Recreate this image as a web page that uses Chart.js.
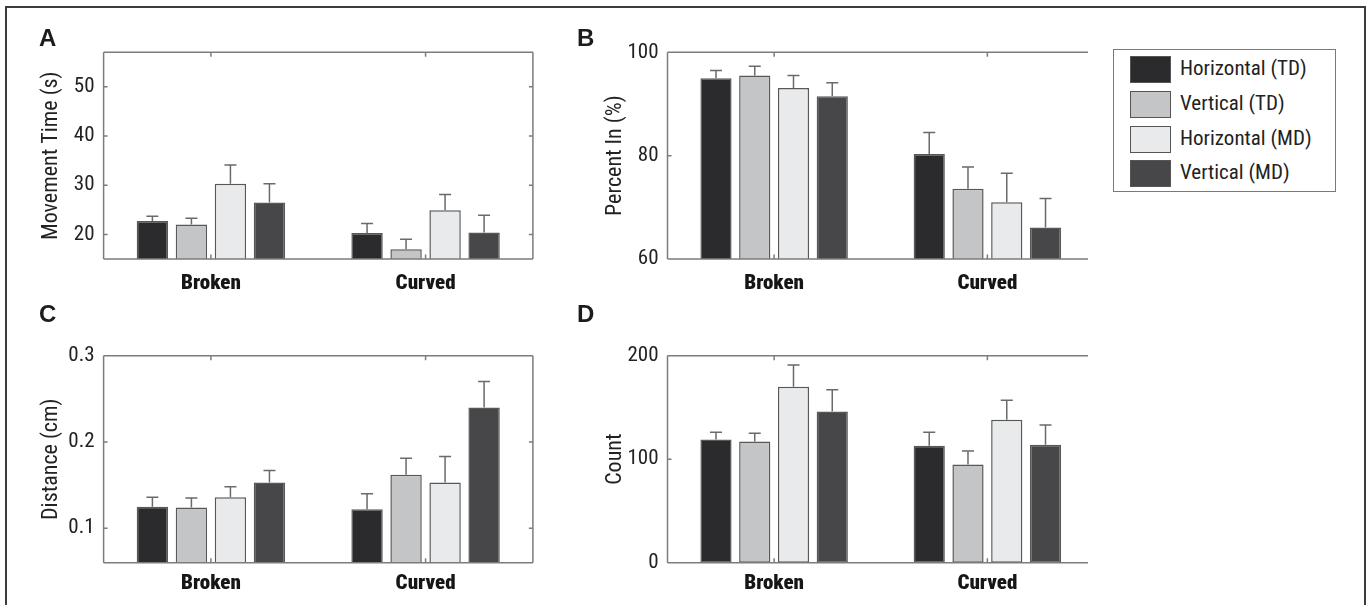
<!DOCTYPE html>
<html>
<head>
<meta charset="utf-8">
<script src="https://cdn.jsdelivr.net/npm/chart.js@4.4.1/dist/chart.umd.min.js"></script>
<style>
  body { margin: 0; background: #fff; }
  #fig { position: relative; width: 1372px; height: 605px; overflow: hidden; background: #fff; }
  #frame { position: absolute; left: 5px; top: 6px; width: 1361px; height: 640px; border: 2px solid #3c3c3c; box-sizing: border-box; }
  canvas { position: absolute; }
  .letter { position: absolute; font: bold 24px "Liberation Sans", Arial, sans-serif; color: #1c1c1c; line-height: 24px; }
  #legend { position: absolute; left: 1113px; top: 49px; width: 223px; height: 143px; border: 1.5px solid #7a7a7a; box-sizing: border-box; }
  .sw { position: absolute; left: 16px; width: 41px; height: 27px; border: 1.2px solid #555; box-sizing: border-box; }
  .txt { position: absolute; left: 66px; height: 27px; line-height: 27px; font: 21px "Roboto Condensed", "Liberation Sans", sans-serif; color: #222; white-space: nowrap; }
</style>
</head>
<body>
<div id="fig">
  <div id="frame"></div>
  <canvas id="cA" width="560" height="300" style="left:0;top:0"></canvas>
  <canvas id="cB" width="560" height="300" style="left:540px;top:0"></canvas>
  <canvas id="cC" width="560" height="305" style="left:0;top:300px"></canvas>
  <canvas id="cD" width="560" height="305" style="left:540px;top:300px"></canvas>
  <div class="letter" style="left:39px;top:26px">A</div>
  <div class="letter" style="left:577px;top:26px">B</div>
  <div class="letter" style="left:39px;top:302px">C</div>
  <div class="letter" style="left:577px;top:302px">D</div>
  <div id="legend"></div>
</div>
<script>
const categories = ['Broken', 'Curved'];
const seriesNames = ['Horizontal (TD)', 'Vertical (TD)', 'Horizontal (MD)', 'Vertical (MD)'];
const fills = ['#2b2a2c', '#c4c5c7', '#e9eaec', '#474749'];

// rows follow seriesNames, columns follow categories
const timeMean = [[22.7, 20.3], [22.0, 17.0], [30.3, 24.9], [26.5, 20.4]];
const timeErr = [[1.0, 1.9], [1.3, 2.0], [3.8, 3.2], [3.8, 3.5]];
const timeTicks = [20, 30, 40, 50];

const percentMean = [[95.0, 80.3], [95.5, 73.6], [93.1, 71.0], [91.5, 66.1]];
const percentErr = [[1.5, 4.2], [1.8, 4.2], [2.4, 5.6], [2.6, 5.6]];
const percentTicks = [60, 80, 100];

const distMean = [[0.125, 0.122], [0.124, 0.162], [0.136, 0.153], [0.153, 0.240]];
const distErr = [[0.011, 0.018], [0.011, 0.019], [0.012, 0.030], [0.014, 0.030]];
const distTicks = [0.1, 0.2, 0.3];

const countMean = [[119, 113], [117, 95], [170, 138], [146, 114]];
const countErr = [[7, 13], [8, 13], [21, 19], [21, 19]];
const countTicks = [0, 100, 200];

const family = '"Roboto Condensed", "Liberation Sans", sans-serif';

// legend
const legend = document.getElementById('legend');
const rowTops = [6, 40.5, 75.5, 109.5];
seriesNames.forEach((name, i) => {
  const sw = document.createElement('div');
  sw.className = 'sw';
  sw.style.top = rowTops[i] + 'px';
  sw.style.background = fills[i];
  legend.appendChild(sw);
  const t = document.createElement('div');
  t.className = 'txt';
  t.style.top = rowTops[i] + 'px';
  t.textContent = name;
  legend.appendChild(t);
});

const errorBars = {
  id: 'errorBars',
  afterDatasetsDraw(chart) {
    const { ctx } = chart;
    const y = chart.scales.y;
    ctx.save();
    ctx.strokeStyle = '#6a6a6a';
    ctx.lineWidth = 1.5;
    chart.data.datasets.forEach((ds, di) => {
      chart.getDatasetMeta(di).data.forEach((bar, i) => {
        const top = y.getPixelForValue(ds.data[i] + ds.err[i]);
        ctx.beginPath();
        ctx.moveTo(bar.x, bar.y);
        ctx.lineTo(bar.x, top);
        ctx.moveTo(bar.x - 6, top);
        ctx.lineTo(bar.x + 6, top);
        ctx.stroke();
      });
    });
    ctx.restore();
  }
};

// MATLAB-like axes box with inward ticks
const axesBox = {
  id: 'axesBox',
  afterDraw(chart, args, o) {
    const { ctx, chartArea: { left, right, top, bottom } } = chart;
    const { x, y } = chart.scales;
    const end = o.lineEnd || right;
    ctx.save();
    ctx.strokeStyle = '#7c7c7c';
    ctx.lineWidth = 1.5;
    ctx.beginPath();
    ctx.moveTo(left, top); ctx.lineTo(end, top);
    ctx.moveTo(left, bottom); ctx.lineTo(end, bottom);
    ctx.moveTo(left, top); ctx.lineTo(left, bottom);
    if (o.rightSide) { ctx.moveTo(right, top); ctx.lineTo(right, bottom); }
    y.ticks.forEach(t => {
      const py = y.getPixelForValue(t.value);
      ctx.moveTo(left, py); ctx.lineTo(left + 4, py);
      if (o.rightSide) { ctx.moveTo(right, py); ctx.lineTo(right - 4, py); }
    });
    x.ticks.forEach((t, i) => {
      const px = x.getPixelForTick(i);
      ctx.moveTo(px, top); ctx.lineTo(px, top + 4.5);
      ctx.moveTo(px, bottom); ctx.lineTo(px, bottom - 4.5);
    });
    ctx.stroke();
    ctx.restore();
  }
};

function makePanel(p) {
  const [bx, by, bw, bh] = p.box;
  const [al, at, ar, ab] = p.area;
  new Chart(document.getElementById(p.id), {
    type: 'bar',
    data: {
      labels: categories,
      datasets: seriesNames.map((name, i) => ({
        label: name,
        data: p.mean[i],
        err: p.err[i],
        backgroundColor: fills[i],
        borderColor: '#585858',
        borderWidth: 1.5,
        borderSkipped: false,
        categoryPercentage: 0.727,
        barPercentage: 0.805
      }))
    },
    options: {
      responsive: false,
      animation: false,
      layout: { padding: { left: 0, top: at - by, right: bx + bw - ar, bottom: 0 } },
      plugins: {
        legend: { display: false },
        tooltip: { enabled: false },
        axesBox: { rightSide: p.rightSide, lineEnd: p.lineEnd ? p.lineEnd - bx : 0 }
      },
      scales: {
        x: {
          grid: { display: false, drawTicks: false },
          border: { display: false },
          ticks: {
            font: { family, size: 21, weight: '900' },
            color: '#161616',
            padding: p.labelPad,
            maxRotation: 0,
            minRotation: 0
          },
          afterFit(s) { s.height = by + bh - ab; }
        },
        y: {
          min: p.min,
          max: p.max,
          grid: { display: false, drawTicks: false },
          border: { display: false },
          afterBuildTicks(s) { s.ticks = p.ticks.map(v => ({ value: v })); },
          ticks: {
            font: { family, size: 21 },
            color: '#222',
            padding: 9,
            callback: v => String(v)
          },
          title: {
            display: true,
            text: p.title,
            font: { family, size: 22 },
            color: '#222',
            padding: { top: p.titleX - bx - 13.2, bottom: 0 }
          },
          afterFit(s) { s.width = al - bx; }
        }
      }
    },
    plugins: [errorBars, axesBox]
  });
}

makePanel({ id: 'cA', box: [0, 0, 560, 300], area: [103.6, 52.3, 532.9, 259],
  mean: timeMean, err: timeErr, ticks: timeTicks, min: 15, max: 57,
  title: 'Movement Time (s)', titleX: 51.8, rightSide: true, labelPad: 11.9 });
makePanel({ id: 'cB', box: [540, 0, 560, 300], area: [667.5, 52.3, 1094, 259],
  mean: percentMean, err: percentErr, ticks: percentTicks, min: 60, max: 100,
  title: 'Percent In (%)', titleX: 615, rightSide: false, lineEnd: 1088, labelPad: 11.9 });
makePanel({ id: 'cC', box: [0, 300, 560, 305], area: [103.6, 355.7, 532.9, 562.7],
  mean: distMean, err: distErr, ticks: distTicks, min: 0.06, max: 0.3,
  title: 'Distance (cm)', titleX: 51.8, rightSide: true, labelPad: 8.9 });
makePanel({ id: 'cD', box: [540, 300, 560, 305], area: [667.5, 355.7, 1094, 562.7],
  mean: countMean, err: countErr, ticks: countTicks, min: 0, max: 200,
  title: 'Count', titleX: 615, rightSide: false, lineEnd: 1088, labelPad: 8.9 });
</script>
</body>
</html>
